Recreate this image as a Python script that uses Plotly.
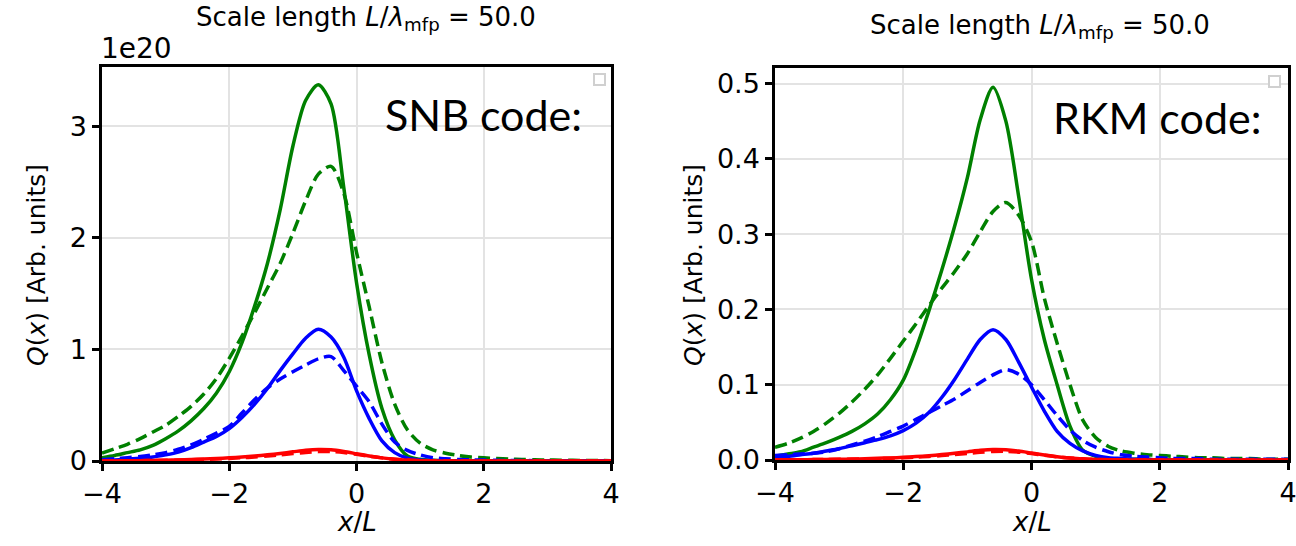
import plotly.graph_objects as go

# Sample positions along x/L shared by every profile
x_pos = [-4.0, -3.8, -3.6, -3.4, -3.2, -3.0, -2.8, -2.6, -2.4, -2.2,
         -2.0, -1.8, -1.6, -1.4, -1.2, -1.0, -0.8, -0.6, -0.4, -0.2,
         0.0, 0.2, 0.4, 0.6, 0.8, 1.0, 1.2, 1.4, 1.6, 1.8,
         2.0, 2.2, 2.4, 2.6, 2.8, 3.0, 3.2, 3.4, 3.6, 3.8, 4.0]

# SNB code heat flux profiles (units of 1e20)
snb_green_solid = [0.03, 0.05, 0.075, 0.10, 0.14, 0.20, 0.27, 0.36, 0.47, 0.61,
                   0.80, 1.06, 1.39, 1.77, 2.25, 2.82, 3.23, 3.37, 3.20, 2.45,
                   1.60, 0.95, 0.47, 0.19, 0.045, 0.015, 0.007, 0.004, 0.002, 0.001,
                   0.001, 0.0, 0.0, 0.0, 0.0, 0.0, 0.0, 0.0, 0.0, 0.0, 0.0]
snb_green_dash = [0.07, 0.11, 0.15, 0.20, 0.26, 0.32, 0.40, 0.49, 0.60, 0.74,
                  0.92, 1.12, 1.33, 1.55, 1.77, 2.04, 2.33, 2.57, 2.64, 2.40,
                  1.87, 1.38, 0.88, 0.51, 0.28, 0.16, 0.10, 0.07, 0.05, 0.035,
                  0.028, 0.022, 0.018, 0.014, 0.011, 0.009, 0.007, 0.006, 0.005, 0.004, 0.003]
snb_blue_solid = [0.005, 0.01, 0.015, 0.024, 0.035, 0.055, 0.08, 0.12, 0.17, 0.22,
                  0.29, 0.39, 0.51, 0.65, 0.81, 0.96, 1.10, 1.18, 1.11, 0.93,
                  0.63, 0.38, 0.18, 0.075, 0.025, 0.01, 0.004, 0.002, 0.001, 0.0,
                  0.0, 0.0, 0.0, 0.0, 0.0, 0.0, 0.0, 0.0, 0.0, 0.0, 0.0]
snb_blue_dash = [0.01, 0.02, 0.03, 0.04, 0.055, 0.075, 0.105, 0.145, 0.195, 0.25,
                 0.31, 0.43, 0.55, 0.655, 0.735, 0.80, 0.86, 0.915, 0.935, 0.81,
                 0.67, 0.53, 0.33, 0.17, 0.095, 0.055, 0.03, 0.02, 0.014, 0.01,
                 0.008, 0.006, 0.005, 0.004, 0.003, 0.003, 0.002, 0.002, 0.002, 0.002, 0.002]
snb_red_solid = [0.0, 0.001, 0.002, 0.003, 0.005, 0.007, 0.01, 0.013, 0.017, 0.022,
                 0.028, 0.035, 0.044, 0.055, 0.068, 0.082, 0.096, 0.103, 0.10, 0.085,
                 0.065, 0.045, 0.028, 0.015, 0.007, 0.003, 0.001, 0.0, 0.0, 0.0,
                 0.0, 0.0, 0.0, 0.0, 0.0, 0.0, 0.0, 0.0, 0.0, 0.0, 0.0]
snb_red_dash = [0.0, 0.001, 0.002, 0.003, 0.004, 0.006, 0.008, 0.011, 0.014, 0.018,
                0.023, 0.029, 0.036, 0.045, 0.055, 0.066, 0.077, 0.084, 0.085, 0.076,
                0.060, 0.043, 0.028, 0.016, 0.008, 0.004, 0.002, 0.001, 0.0, 0.0,
                0.0, 0.0, 0.0, 0.0, 0.0, 0.0, 0.0, 0.0, 0.0, 0.0, 0.0]

# RKM code heat flux profiles
rkm_green_solid = [0.005, 0.008, 0.011, 0.017, 0.023, 0.030, 0.038, 0.048, 0.061, 0.08,
                   0.106, 0.148, 0.198, 0.252, 0.31, 0.375, 0.452, 0.495, 0.45, 0.35,
                   0.24, 0.16, 0.10, 0.045, 0.013, 0.005, 0.002, 0.001, 0.001, 0.001,
                   0.0, 0.0, 0.0, 0.0, 0.0, 0.0, 0.0, 0.0, 0.0, 0.0, 0.0]
rkm_green_dash = [0.017, 0.022, 0.029, 0.038, 0.049, 0.062, 0.077, 0.094, 0.113, 0.135,
                  0.158, 0.181, 0.205, 0.228, 0.25, 0.274, 0.303, 0.33, 0.342, 0.325,
                  0.29, 0.215, 0.155, 0.10, 0.053, 0.03, 0.018, 0.012, 0.009, 0.007,
                  0.006, 0.005, 0.004, 0.003, 0.003, 0.002, 0.002, 0.002, 0.001, 0.001, 0.001]
rkm_blue_solid = [0.004, 0.005, 0.007, 0.009, 0.012, 0.015, 0.019, 0.023, 0.027, 0.032,
                  0.039, 0.049, 0.063, 0.083, 0.107, 0.134, 0.160, 0.173, 0.16, 0.13,
                  0.097, 0.065, 0.038, 0.022, 0.012, 0.006, 0.003, 0.002, 0.001, 0.001,
                  0.0, 0.0, 0.0, 0.0, 0.0, 0.0, 0.0, 0.0, 0.0, 0.0, 0.0]
rkm_blue_dash = [0.006, 0.007, 0.008, 0.009, 0.011, 0.015, 0.02, 0.025, 0.031, 0.038,
                 0.045, 0.054, 0.063, 0.072, 0.081, 0.092, 0.103, 0.113, 0.12, 0.114,
                 0.10, 0.08, 0.059, 0.04, 0.026, 0.017, 0.011, 0.007, 0.005, 0.004,
                 0.003, 0.002, 0.002, 0.002, 0.001, 0.001, 0.001, 0.001, 0.001, 0.001, 0.001]
rkm_red_solid = [0.0, 0.0002, 0.0004, 0.0006, 0.0008, 0.001, 0.0013, 0.0017, 0.0022, 0.0028,
                 0.0035, 0.0045, 0.0057, 0.0072, 0.0089, 0.0108, 0.0128, 0.014, 0.0136, 0.0118,
                 0.0092, 0.0066, 0.0043, 0.0026, 0.0014, 0.0007, 0.0003, 0.0001, 0.0, 0.0,
                 0.0, 0.0, 0.0, 0.0, 0.0, 0.0, 0.0, 0.0, 0.0, 0.0, 0.0]
rkm_red_dash = [0.0, 0.0002, 0.0003, 0.0005, 0.0007, 0.0009, 0.0011, 0.0014, 0.0018, 0.0023,
                0.0029, 0.0037, 0.0047, 0.0059, 0.0073, 0.0088, 0.0103, 0.0113, 0.0115, 0.0104,
                0.0085, 0.0063, 0.0043, 0.0027, 0.0015, 0.0008, 0.0004, 0.0002, 0.0001, 0.0,
                0.0, 0.0, 0.0, 0.0, 0.0, 0.0, 0.0, 0.0, 0.0, 0.0, 0.0]

x_ticks = [-4, -2, 0, 2, 4]
snb_y_ticks = [0, 1, 2, 3]
rkm_y_ticks = [0.0, 0.1, 0.2, 0.3, 0.4, 0.5]

GREEN, BLUE, RED = "#008000", "#0000ff", "#ff0000"
DASH = "12px,6px"

fig = go.Figure()

series = [
    ("x", "y", snb_green_solid, GREEN, "solid"),
    ("x", "y", snb_green_dash, GREEN, DASH),
    ("x", "y", snb_blue_solid, BLUE, "solid"),
    ("x", "y", snb_blue_dash, BLUE, DASH),
    ("x", "y", snb_red_solid, RED, "solid"),
    ("x", "y", snb_red_dash, RED, DASH),
    ("x2", "y2", rkm_green_solid, GREEN, "solid"),
    ("x2", "y2", rkm_green_dash, GREEN, DASH),
    ("x2", "y2", rkm_blue_solid, BLUE, "solid"),
    ("x2", "y2", rkm_blue_dash, BLUE, DASH),
    ("x2", "y2", rkm_red_solid, RED, "solid"),
    ("x2", "y2", rkm_red_dash, RED, DASH),
]
for xa, ya, vals, col, dash in series:
    fig.add_trace(go.Scatter(
        x=x_pos, y=vals, xaxis=xa, yaxis=ya, mode="lines",
        line=dict(color=col, width=3.5, dash=dash, shape="spline", smoothing=0.8),
        showlegend=False, hoverinfo="skip"))

TICKFONT = dict(family="DejaVu Sans", size=27, color="black")
axis_common = dict(
    showline=True, linecolor="black", linewidth=2.5, mirror=True,
    ticks="outside", ticklen=7, tickwidth=2.5, tickcolor="black",
    showgrid=True, gridcolor="#e3e3e3", gridwidth=2, zeroline=False,
    tickfont=TICKFONT, automargin=False, ticklabeloverflow="allow",
)

fig.update_layout(
    width=1296, height=546,
    margin=dict(l=0, r=0, t=0, b=0, autoexpand=False),
    paper_bgcolor="white", plot_bgcolor="white",
    showlegend=False,
    xaxis=dict(domain=[102 / 1296, 611 / 1296], range=[-4, 4], tickvals=x_ticks,
               anchor="y", **axis_common),
    yaxis=dict(domain=[1 - 461 / 546, 1 - 67 / 546], range=[0, 3.53], tickvals=snb_y_ticks,
               anchor="x", **axis_common),
    xaxis2=dict(domain=[775 / 1296, 1288 / 1296], range=[-4, 4], tickvals=x_ticks,
                anchor="y2", **axis_common),
    yaxis2=dict(domain=[1 - 460 / 546, 1 - 68 / 546], range=[0, 0.5206], tickvals=rkm_y_ticks,
                tickformat=".1f", anchor="x2", **axis_common),
)

title_txt = "Scale length <i>L</i>/<i>λ</i><sub>mfp</sub> = 50.0"
ylab = "<i>Q</i>(<i>x</i>) [Arb. units]"
ann_font = dict(family="DejaVu Sans", color="black")

annotations = [
    dict(x=366 / 1296, y=1 - 19 / 546, text=title_txt, font=dict(size=26, **ann_font)),
    dict(x=1040 / 1296, y=1 - 26 / 546, text=title_txt, font=dict(size=26, **ann_font)),
    dict(x=99 / 1296, y=1 - 48 / 546, text="1e20", xanchor="left",
         font=dict(size=28, **ann_font)),
    dict(x=36 / 1296, y=1 - 265 / 546, text=ylab, textangle=-90,
         font=dict(size=25, **ann_font)),
    dict(x=693 / 1296, y=1 - 265 / 546, text=ylab, textangle=-90,
         font=dict(size=25, **ann_font)),
    dict(x=357 / 1296, y=1 - 522 / 546, text="<i>x</i>/<i>L</i>",
         font=dict(size=26, **ann_font)),
    dict(x=1032 / 1296, y=1 - 522 / 546, text="<i>x</i>/<i>L</i>",
         font=dict(size=26, **ann_font)),
    dict(x=483 / 1296, y=1 - 114 / 546, text="SNB code:",
         font=dict(family="Lato", size=43, color="black")),
    dict(x=1157 / 1296, y=1 - 117 / 546, text="RKM code:",
         font=dict(family="Lato", size=43, color="black")),
]
for a in annotations:
    a.setdefault("xref", "paper")
    a.setdefault("yref", "paper")
    a.setdefault("showarrow", False)
    a.setdefault("xanchor", "center")
    a.setdefault("yanchor", "middle")
fig.update_layout(annotations=annotations)

# empty legend frames in the upper right corners
for (x0, y0) in [(594, 74), (1269, 76)]:
    fig.add_shape(type="rect", xref="paper", yref="paper",
                  x0=x0 / 1296, x1=(x0 + 11) / 1296,
                  y0=1 - (y0 + 11) / 546, y1=1 - y0 / 546,
                  line=dict(color="#d0d0d0", width=2), fillcolor="white")

fig.write_html("out.html")
